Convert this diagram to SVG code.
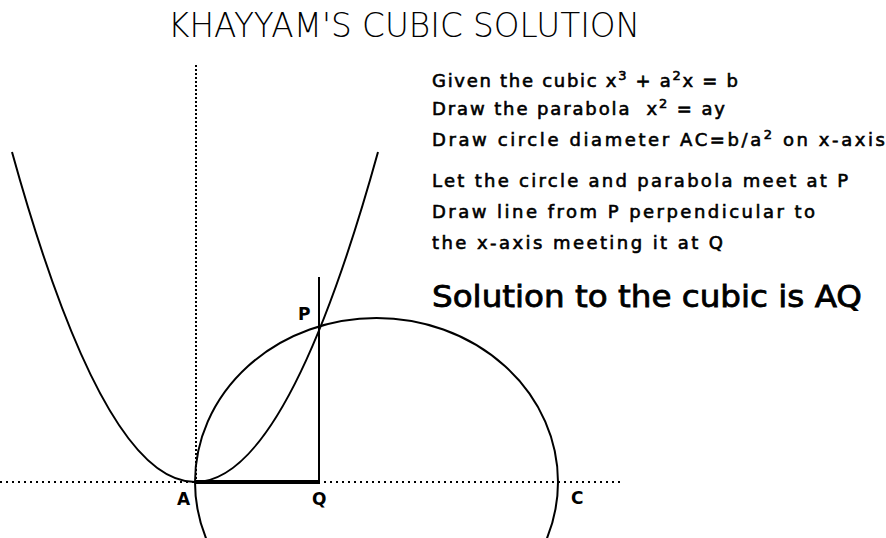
<svg xmlns="http://www.w3.org/2000/svg" width="886" height="538" viewBox="0 0 886 538">
<style>
.t{font-family:"DejaVu Sans","Liberation Sans",sans-serif;font-size:18px;fill:#000;stroke:#000;stroke-width:0.6}
.sup{font-size:13px}
.lbl{font-family:"DejaVu Sans","Liberation Sans",sans-serif;font-size:17px;font-weight:bold;fill:#000}
.curve{fill:none;stroke:#000;stroke-width:2}
.dot{fill:none;stroke:#000;stroke-width:2}
</style>
<rect width="886" height="538" fill="#fff"/>
<g id="title">
<text x="168" y="37" font-family="'DejaVu Sans','Liberation Sans',sans-serif" font-weight="200" font-size="34" textLength="472" lengthAdjust="spacingAndGlyphs" fill="#000">KHAYYAM'S CUBIC SOLUTION</text>
</g>
<g id="axes">
<line id="x-axis" class="dot" x1="0" y1="482" x2="620" y2="482" stroke-dasharray="2 4"/>
<line id="y-axis" class="dot" x1="196" y1="65" x2="196" y2="480" stroke-dasharray="2 2"/>
</g>
<g id="parabola"><path class="curve" d="M12,152 Q195,812 378,152"/></g>
<g id="circle"><ellipse class="curve" cx="376.5" cy="482" rx="181.5" ry="164"/></g>
<g id="perpendicular"><line x1="319" y1="277" x2="319" y2="482" stroke="#000" stroke-width="2"/></g>
<g id="AQ"><line x1="195" y1="482" x2="320" y2="482" stroke="#000" stroke-width="4"/></g>
<g id="labels">
<text class="lbl" x="298" y="320">P</text>
<text class="lbl" x="177" y="505">A</text>
<text class="lbl" x="312" y="505">Q</text>
<text class="lbl" x="571" y="504">C</text>
</g>
<g id="steps">
<text class="t" x="432" y="87" textLength="306">Given the cubic x<tspan class="sup" dy="-7">3</tspan><tspan dy="7"> + a</tspan><tspan class="sup" dy="-7">2</tspan><tspan dy="7">x = b</tspan></text>
<text class="t" x="432" y="115" textLength="293" xml:space="preserve">Draw the parabola  x<tspan class="sup" dy="-7">2</tspan><tspan dy="7"> = ay</tspan></text>
<text class="t" x="432" y="146" textLength="453">Draw circle diameter AC=b/a<tspan class="sup" dy="-7">2</tspan><tspan dy="7"> on x-axis</tspan></text>
<text class="t" x="432" y="187" textLength="416">Let the circle and parabola meet at P</text>
<text class="t" x="432" y="218" textLength="383">Draw line from P perpendicular to</text>
<text class="t" x="432" y="249" textLength="291">the x-axis meeting it at Q</text>
</g>
<g id="solution">
<text x="432" y="307" font-family="'DejaVu Sans','Liberation Sans',sans-serif" font-size="30" stroke="#000" stroke-width="0.8" textLength="430" lengthAdjust="spacingAndGlyphs" fill="#000">Solution to the cubic is AQ</text>
</g>
</svg>
